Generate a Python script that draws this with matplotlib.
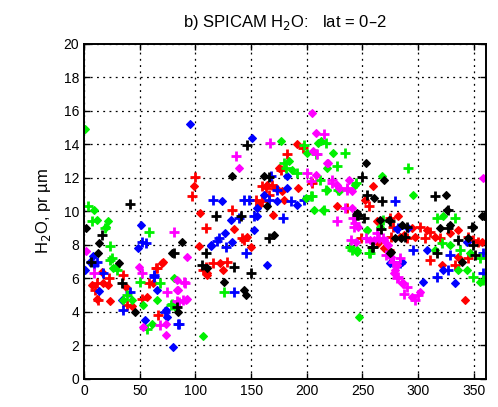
import matplotlib
matplotlib.use("Agg")
import matplotlib.pyplot as plt

plt.rcParams['font.family'] = ['Liberation Sans', 'DejaVu Sans']

# SPICAM H2O column, lat 0-2 (Ls, pr-um), one list per colour
red_ls = [15.9, 11.4, 17.3, 22.7, 21.2, 12.8, 23.3, 34.7, 37.7, 38.3, 42.8, 51.8, 56.3, 58.6, 62.2,
          65.3, 69.8, 64.4, 71.2, 66.7, 6.9, 9.9, 11.4, 99.6, 99.0, 96.7, 104.0, 109.0, 103.5, 107.0,
          110.0, 109.2, 110.7, 116.1, 122.1, 128.1, 125.1, 133.2, 134.7, 142.1, 146.6, 143.6, 149.6,
          154.0, 157.0, 160.0, 170.0, 160.0, 164.6, 169.0, 172.0, 163.0, 178.0, 166.0, 179.5, 177.1,
          175.0, 182.5, 190.9, 197.0, 192.4, 205.0, 226.8, 235.8, 259.7, 255.9, 263.3, 275.3, 287.3,
          248.4, 269.3, 273.8, 252.2, 274.8, 282.3, 277.7, 294.1, 301.6, 307.6, 310.6, 297.1, 306.1,
          315.1, 319.6, 336.1, 345.1, 328.6, 289.6, 283.6, 349.6, 357.1, 354.1, 264.2, 310.6, 321.1,
          333.1, 336.1, 345.1, 342.1]
red_h2o = [6.4, 5.7, 5.7, 6.0, 5.6, 4.7, 4.67, 6.2, 5.5, 4.4, 4.36, 4.8, 4.9, 5.7, 5.7,
           6.6, 6.9, 6.6, 7.0, 3.8, 5.6, 5.3, 4.8, 12.04, 11.5, 10.9, 9.9, 9.0, 7.96, 6.5,
           6.3, 6.7, 6.2, 6.9, 6.9, 7.0, 6.5, 10.1, 8.93, 8.4, 8.5, 8.3, 7.9,
           10.7, 10.4, 10.6, 9.8, 11.5, 11.6, 11.6, 11.4, 11.4, 11.2, 11.0, 10.7, 12.5,
           12.6, 13.4, 14.0, 13.8, 11.4, 11.7, 10.3, 10.2, 11.5, 10.3, 9.4, 8.5, 8.6,
           8.4, 7.8, 7.7, 10.7, 9.6, 9.7, 9.1, 9.0, 9.1, 8.9, 8.8, 8.5, 8.4,
           8.5, 8.4, 8.9, 8.5, 8.7, 8.4, 8.5, 8.3, 8.2, 8.2, 8.1, 7.1, 6.8,
           6.8, 7.3, 7.2, 4.7]

blue_ls = [7.8, 11.4, 0.9, 17.3, 13.7, 41.3, 33.8, 35.3, 54.8, 63.1, 65.3, 72.7, 74.2, 84.6, 80.2,
           62.8, 5.4, 8.4, 51.0, 55.7, 48.8, 52.3, 95.0, 116.0, 114.0, 119.0, 124.2, 143.6, 131.6,
           139.1, 126.6, 121.2, 113.7, 127.2, 133.2, 134.7, 73.3, 85.3, 151.1, 167.6, 182.5, 173.5,
           182.5, 148.1, 161.6, 166.0, 172.9, 185.5, 190.9, 197.5, 155.6, 152.6, 155.6, 178.6, 152.6,
           145.0, 164.6, 278.8, 281.2, 277.7, 285.2, 282.3, 291.1, 295.6, 307.6, 328.6, 343.6, 358.6,
           274.8, 283.8, 304.6, 316.6, 322.6, 327.1, 333.1, 358.6]
blue_h2o = [7.34, 7.0, 6.5, 6.3, 5.27, 5.2, 4.7, 4.1, 3.5, 6.1, 5.3, 4.0, 3.7, 3.3, 1.9,
            6.2, 7.0, 6.8, 9.2, 8.1, 7.8, 8.2, 15.2, 10.7, 7.96, 8.26, 10.6, 10.7, 9.5,
            9.6, 8.7, 8.4, 8.0, 7.9, 8.2, 5.2, 4.1, 3.3, 14.4, 12.1, 12.1, 11.3,
            11.4, 10.7, 11.0, 10.7, 10.6, 10.6, 10.4, 10.7, 10.2, 9.7, 9.7, 9.6, 8.9,
            7.5, 6.8, 10.6, 8.95, 7.0, 7.0, 9.0, 9.0, 7.7, 7.7, 7.4, 8.2, 7.5,
            6.9, 6.9, 5.8, 6.1, 6.5, 6.5, 5.7, 6.3]

green_ls = [0.9, 3.0, 9.0, 6.9, 11.4, 18.9, 21.5, 23.0, 19.5, 23.3, 26.3, 25.4, 28.4, 29.9, 35.3,
            38.3, 42.8, 50.3, 53.2, 56.8, 60.8, 68.0, 65.3, 78.7, 81.7, 58.6, 80.8, 77.8, 107.0,
            125.7, 176.5, 179.5, 184.0, 181.0, 187.0, 191.5, 198.9, 203.4, 206.4, 215.4, 212.4, 197.4,
            200.4, 208.0, 210.3, 217.6, 223.8, 234.3, 217.8, 226.8, 243.3, 211.8, 217.8, 228.3, 214.9,
            204.4, 267.8, 243.9, 228.9, 216.9, 254.3, 240.9, 245.4, 255.8, 246.9, 291.1, 295.6, 316.6,
            322.6, 333.1, 253.7, 268.7, 265.7, 238.8, 244.8, 256.7, 315.1, 321.1, 328.6, 337.6, 346.6,
            355.6, 343.6, 349.6, 355.6, 358.6, 336.1]
green_h2o = [14.9, 10.3, 10.1, 9.4, 9.5, 9.0, 9.45, 7.96, 9.1, 7.1, 6.6, 7.2, 6.7, 6.5, 4.7,
             5.0, 4.7, 5.8, 4.4, 3.0, 3.3, 5.7, 4.7, 4.5, 4.3, 8.8, 6.0, 4.4, 2.57,
             5.2, 14.2, 12.9, 13.0, 12.6, 12.5, 12.3, 10.8, 10.9, 10.1, 10.1, 14.2, 13.98,
             13.5, 13.4, 14.1, 14.1, 13.5, 13.5, 12.6, 12.7, 11.6, 11.9, 11.3, 11.3, 10.1,
             10.9, 12.1, 11.7, 11.2, 11.3, 8.9, 7.7, 7.6, 7.5, 3.7, 12.6, 11.0, 9.6,
             9.7, 9.6, 8.9, 9.5, 9.1, 7.9, 7.7, 7.5, 7.7, 8.1, 8.0, 7.7, 7.5,
             7.2, 6.5, 6.1, 5.8, 5.9, 6.5]

magenta_ls = [1.8, 8.4, 49.6, 51.8, 53.2, 68.2, 73.6, 83.2, 84.6, 89.1, 92.2, 74.8, 83.2, 90.4, 92.2,
              80.8, 83.8, 89.8, 91.3, 85.3, 73.3, 136.2, 139.0, 166.9, 205.0, 200.4, 207.9, 204.0,
              208.0, 215.4, 205.9, 208.9, 219.3, 222.3, 226.8, 235.8, 240.3, 226.8, 244.8, 242.4, 218.4,
              222.9, 228.9, 236.4, 237.9, 252.9, 260.3, 264.8, 269.3, 239.4, 243.9, 270.8, 275.3, 277.7,
              280.7, 283.7, 278.2, 281.2, 285.7, 287.2, 358.5, 234.3, 240.3, 241.8, 246.3, 243.3, 256.7,
              268.7, 273.2, 262.7, 279.2, 282.2, 286.7, 289.7, 294.1, 300.1, 301.6, 297.1]
magenta_h2o = [7.66, 6.3, 6.67, 6.3, 3.1, 3.2, 2.6, 4.66, 5.3, 4.7, 4.8, 5.2, 5.9, 5.7, 7.3,
               8.8, 5.3, 5.8, 4.7, 4.6, 3.3, 13.3, 12.6, 14.1, 15.9, 12.3, 12.2, 11.8,
               14.7, 14.6, 13.6, 13.4, 12.9, 11.9, 11.6, 11.4, 11.2, 9.4, 9.8, 9.1, 12.9,
               11.7, 11.4, 11.3, 11.9, 8.4, 8.3, 8.4, 8.3, 8.3, 8.2, 7.4, 7.3, 7.0,
               6.8, 7.2, 6.3, 6.0, 5.7, 5.1, 12.0, 10.2, 10.2, 9.6, 9.1, 9.3, 8.3,
               8.4, 8.0, 8.7, 6.5, 6.1, 5.7, 5.5, 4.9, 5.0, 5.2, 4.7]

black_ls = [1.8, 15.9, 13.7, 41.3, 12.0, 6.0, 31.7, 33.8, 45.8, 83.2, 84.6, 80.8, 87.7, 105.6, 110.0,
            118.5, 133.0, 140.6, 79.3, 109.2, 125.7, 134.7, 143.6, 146.6, 161.6, 166.0, 164.6, 166.0,
            170.6, 149.6, 145.0, 244.8, 252.9, 249.9, 269.3, 254.3, 260.3, 267.8, 245.4, 251.4, 273.8,
            266.3, 284.2, 258.8, 275.3, 315.1, 325.0, 327.1, 358.8, 246.3, 265.7, 274.8, 285.2, 289.7,
            279.2, 288.2, 319.6, 327.1, 328.6, 336.1, 345.1, 349.6, 349.6, 259.7, 274.8, 316.6, 339.1,
            351.1, 326.1, 348.6, 357.6]
black_h2o = [9.0, 8.6, 8.1, 10.45, 7.54, 7.0, 6.9, 5.7, 4.0, 4.3, 4.0, 7.5, 8.2, 6.8, 6.6,
             9.75, 12.1, 9.7, 7.5, 7.5, 5.8, 6.7, 5.3, 13.97, 12.1, 12.05, 10.3, 8.4,
             8.6, 6.3, 5.0, 9.8, 12.9, 12.07, 11.9, 11.0, 10.8, 10.6, 9.9, 9.6, 9.5,
             8.95, 8.4, 7.9, 7.6, 10.95, 11.0, 10.1, 9.7, 9.8, 9.5, 9.4, 9.2, 9.1,
             8.4, 8.5, 9.0, 9.0, 9.2, 8.3, 8.4, 8.0, 9.1, 7.9, 7.5, 7.5, 7.0,
             7.4, 10.1, 9.1, 9.7]

series = [
    (red_ls, red_h2o, '#ff0000'),
    (blue_ls, blue_h2o, '#0000ff'),
    (green_ls, green_h2o, '#00f000'),
    (magenta_ls, magenta_h2o, '#ff00ff'),
    (black_ls, black_h2o, '#000000'),
]

fig = plt.figure(figsize=(4.98, 4.07), dpi=100)
ax = fig.add_axes([0.169, 0.069, 0.807, 0.823])

for xs, ys, col in series:
    # alternate markers: diamonds and thick plus signs
    ax.plot(xs[0::2], ys[0::2], linestyle='none', marker='D', markersize=4.0,
            color=col, markeredgewidth=0.8)
    ax.plot(xs[1::2], ys[1::2], linestyle='none', marker='+', markersize=7,
            color=col, markeredgewidth=2.0)

ax.set_xlim(0, 361)
ax.set_ylim(0, 20)
ax.set_xticks(range(0, 351, 50))
ax.set_yticks(range(0, 21, 2))
ax.grid(True, color='k', linestyle=(0, (1.5, 3.5)), linewidth=0.9)
ax.tick_params(direction='in', top=True, right=True, length=4, width=1, labelsize=10)
for s in ax.spines.values():
    s.set_linewidth(1.4)

ax.set_title('b) SPICAM H$_2$O:   lat = 0\u20132', fontsize=12, pad=12)
ax.set_ylabel('H$_2$O, pr \u00b5m', fontsize=12, labelpad=8)

fig.savefig('out.png', dpi=100)
